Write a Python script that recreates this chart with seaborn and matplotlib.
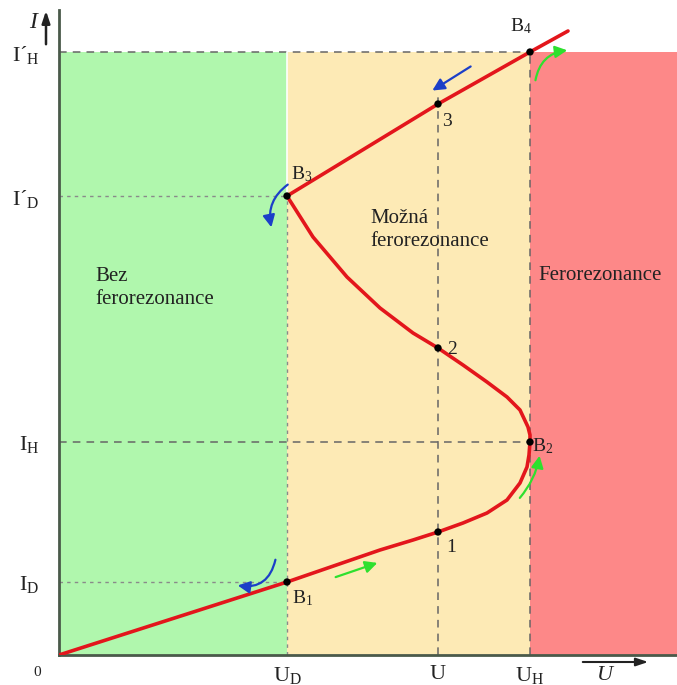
import matplotlib
matplotlib.use("Agg")
import matplotlib.pyplot as plt
import seaborn as sns
import pandas as pd

# Characteristic curve I(U) of the ferroresonant circuit (arbitrary units)
curve_u = [0, 228, 321, 354, 379, 404, 428, 448, 461, 468, 470, 471, 471, 469,
           461, 448, 428, 404, 379, 354, 321, 288, 254, 228, 379, 471, 509]
curve_i = [0, 73, 105, 115, 123, 132, 142, 155, 172, 188, 200, 213, 220, 228,
           245, 258, 273, 290, 307, 322, 347, 378, 418, 459, 551, 603, 624]

# Marked operating points
point_names = ["B$_1$", "1", "B$_2$", "2", "B$_3$", "3", "B$_4$"]
point_u = [228, 379, 471, 379, 228, 379, 471]
point_i = [73, 123, 213, 307, 459, 551, 603]

# Characteristic voltages and currents
u_ticks = [228, 379, 471]
u_labels = ["U$_\\mathrm{D}$", "U", "U$_\\mathrm{H}$"]
i_ticks = [73, 213, 459, 603]
i_labels = ["I$_\\mathrm{D}$", "I$_\\mathrm{H}$", "I´$_\\mathrm{D}$", "I´$_\\mathrm{H}$"]

# Regions of the diagram
region_names = ["Bez\nferorezonance", "Možná\nferorezonance", "Ferorezonance"]
region_bounds = [(0, 228), (228, 471), (471, 618)]
region_colors = ["#b0f7ad", "#fdeab5", "#fd8888"]

sns.set_theme(style="white")
plt.rcParams["font.family"] = ["Liberation Serif", "DejaVu Serif"]
plt.rcParams["mathtext.fontset"] = "custom"
plt.rcParams["mathtext.rm"] = "Liberation Serif"
plt.rcParams["mathtext.it"] = "Liberation Serif:italic"

fig = plt.figure(figsize=(6.77, 6.85), dpi=100)
ax = fig.add_axes([59 / 677, 30 / 685, 618 / 677, 645 / 685])
ax.set_xlim(0, 618)
ax.set_ylim(0, 645)

top = i_ticks[-1]
for (x0, x1), c in zip(region_bounds, region_colors):
    ax.fill_between([x0, x1], 0, top, color=c, lw=0, zorder=0)

# guide lines
dash = dict(color="#666666", lw=1.1, ls=(0, (5, 4)), zorder=1)
dot = dict(color="#8a8a8a", lw=1.0, ls=(0, (2.5, 3)), zorder=1)
ax.plot([0, 471], [603, 603], **dash)
ax.plot([0, 471], [213, 213], **dash)
ax.plot([379, 379], [0, 560], **dash)
ax.plot([471, 471], [0, 603], **dash)
ax.plot([0, 228], [459, 459], **dot)
ax.plot([0, 228], [73, 73], **dot)
ax.plot([228, 228], [0, 459], **dot)
ax.plot([228, 228], [459, 603], color="white", lw=1.2, zorder=1)

df = pd.DataFrame({"U": curve_u, "I": curve_i})
sns.lineplot(data=df, x="U", y="I", sort=False, estimator=None, errorbar=None,
             color="#e3161c", lw=2.6, ax=ax, zorder=3,
             solid_joinstyle="round", solid_capstyle="round")
pts = pd.DataFrame({"U": point_u, "I": point_i})
sns.scatterplot(data=pts, x="U", y="I", color="black", s=28, ax=ax,
                zorder=4, edgecolor="none")

# labels of points
offsets = {"B$_1$": (5, -16), "1": (8, -16), "B$_2$": (2, -4), "2": (9, -2),
           "B$_3$": (4, 22), "3": (4, -18), "B$_4$": (-20, 26)}
for n, u, i in zip(point_names, point_u, point_i):
    dx, dy = offsets[n]
    ax.text(u + dx, i + dy, n, fontsize=14, color="#222222", va="center",
            ha="left", zorder=5)

# region captions
ax.text(36, 367, region_names[0], fontsize=15, color="#222222", va="center",
        ha="left", linespacing=1.35)
ax.text(311, 425, region_names[1], fontsize=15, color="#222222", va="center",
        ha="left", linespacing=1.35)
ax.text(479, 379, region_names[2], fontsize=15, color="#222222", va="center",
        ha="left")

# direction arrows
blue = "#1c3fc8"
green = "#2ee02e"


def arrow(p0, p1, color, rad):
    ax.annotate("", xy=p1, xytext=p0,
                arrowprops=dict(arrowstyle="-|>,head_length=0.6,head_width=0.3",
                                color=color, lw=1.6,
                                connectionstyle=f"arc3,rad={rad}"),
                zorder=6)


arrow((217, 98), (176, 70), blue, -0.5)
arrow((274, 77), (321, 93), green, 0.0)
arrow((231, 472), (213, 425), blue, 0.35)
arrow((414, 590), (371, 563), blue, 0.0)
arrow((459, 155), (481, 202), green, 0.15)
arrow((476, 572), (511, 605), green, -0.4)

# axes and ticks
sns.despine(ax=ax, top=True, right=True)
for s in ("left", "bottom"):
    ax.spines[s].set_color("#4a5a4a")
    ax.spines[s].set_linewidth(2)
ax.set_xticks(u_ticks, u_labels, fontsize=16, color="#222222")
ax.set_yticks(i_ticks, i_labels, fontsize=16, color="#222222")
ax.tick_params(axis="x", length=0, pad=7)
ax.tick_params(axis="y", length=0, pad=14)
ax.set_xlabel("")
ax.set_ylabel("")

ax.text(-22, -18, "0", fontsize=11, ha="center", va="center",
        color="#222222", clip_on=False)
ax.annotate("", xy=(-13, 647), xytext=(-13, 608), annotation_clip=False,
            arrowprops=dict(arrowstyle="-|>,head_length=0.6,head_width=0.2",
                            color="#222222", lw=1.8))
ax.text(-26, 632, "I", fontsize=17, style="italic", ha="center", va="center",
        color="#222222", clip_on=False)
ax.annotate("", xy=(592, -7), xytext=(521, -7), annotation_clip=False,
            arrowprops=dict(arrowstyle="-|>,head_length=0.6,head_width=0.2",
                            color="#222222", lw=1.5))
ax.text(546, -20, "U", fontsize=16, style="italic", ha="center", va="center",
        color="#222222", clip_on=False)

fig.savefig("out.png", dpi=100)
